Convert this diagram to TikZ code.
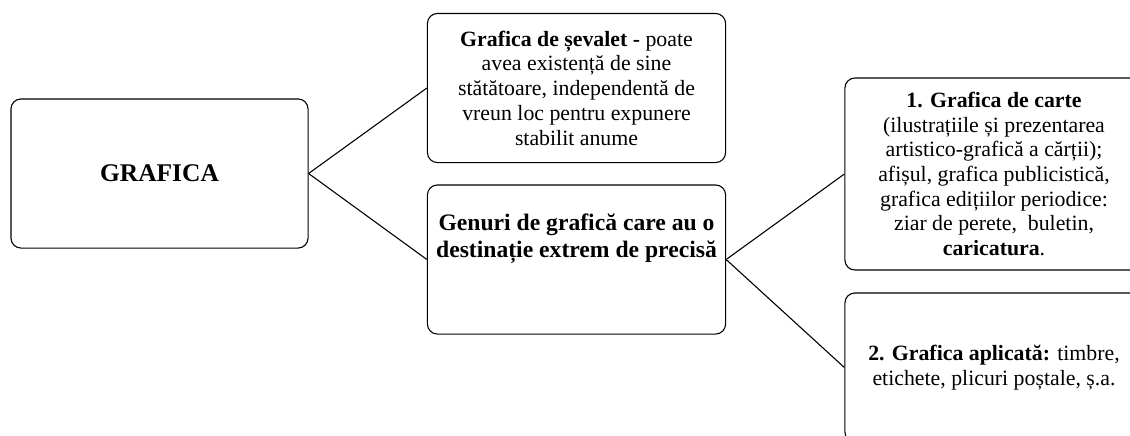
\documentclass[tikz,border=0pt]{standalone}
\usepackage{fontspec}
\setmainfont{Liberation Serif}
\usepackage{xcolor}
\usepackage{tikz}
\usetikzlibrary{positioning}

\begin{document}
\begin{tikzpicture}[x=0.55pt, y=-0.55pt,
    box/.style={draw, line width=0.6pt, rounded corners=5.5pt, minimum width=164pt, minimum height=82pt, inner sep=0pt, align=center, font=\fontsize{12}{13.6}\selectfont},
    link/.style={line width=0.6pt}]
    \useasboundingbox (0,0) rectangle (1130,435);
    \clip (0,0) rectangle (1130,435);

    % Root box
    \node[box, minimum width=163.4pt, font=\fontsize{14}{16}\selectfont\bfseries] (grafica) at (159.5,173.5) {GRAFICA};

    % Second level
    \node[box] (sevalet) at (576.5,88) {\textbf{Grafica de șevalet -} poate\\avea existență de sine\\stătătoare, independentă de\\vreun loc pentru expunere\\stabilit anume};
    \node[box] (genuri) at (576.5,259.5) {};
    \node[font=\fontsize{13}{15}\selectfont\bfseries, align=center, inner sep=0pt, below=16pt of genuri.north] (genuritext) {Genuri de grafică care au o\\destinație extrem de precisă};

    % Third level (cut by the right edge)
    \node[box, minimum height=105.6pt] (carte) at (994,174) {\textbf{1. Grafica de carte}\\(ilustrațiile și prezentarea\\artistico-grafică a cărții);\\afișul, grafica publicistică,\\grafica edițiilor periodice:\\ziar de perete, \ buletin,\\\textbf{caricatura}.};
    \node[box] (aplicata) at (994,367.5) {\textbf{2. Grafica aplicată:} timbre,\\etichete, plicuri poștale, ș.a.};

    % Connectors
    \draw[link] (grafica.east) -- (sevalet.west);
    \draw[link] (grafica.east) -- (genuri.west);
    \draw[link] (genuri.east) -- (carte.west);
    \draw[link] (genuri.east) -- (aplicata.west);
\end{tikzpicture}
\end{document}
